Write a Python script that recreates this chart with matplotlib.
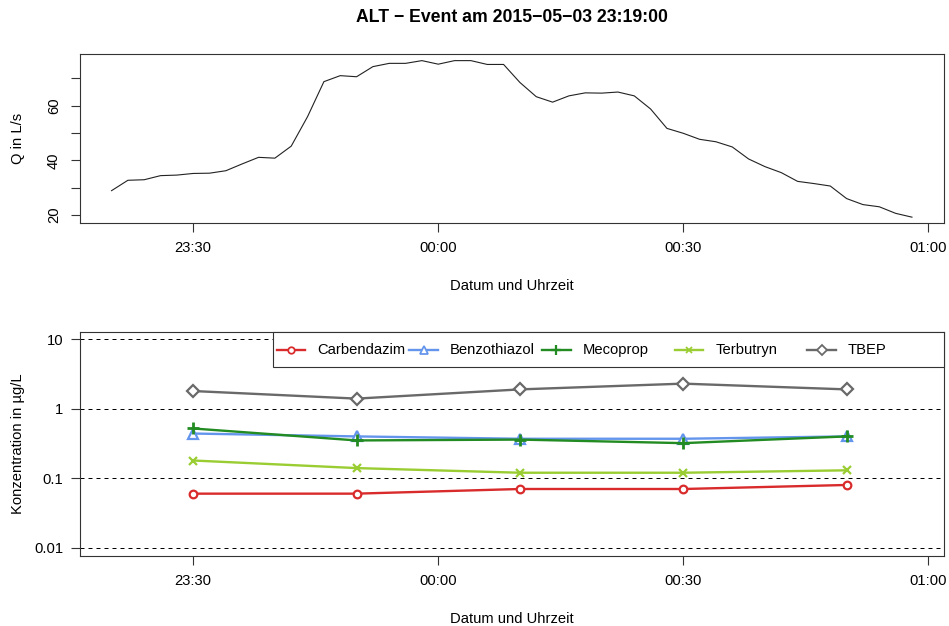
import matplotlib
matplotlib.use('Agg')
import matplotlib.pyplot as plt
import matplotlib.dates as mdates
from matplotlib.lines import Line2D
from matplotlib.patches import Rectangle
import pandas as pd

plt.rcParams['font.family'] = ['Liberation Sans', 'DejaVu Sans']

# Abfluss, alle 2 Minuten ab 23:20
q_start = '2015-05-03 23:20'
q_werte = [28.9, 32.7, 32.9, 34.4, 34.6, 35.2, 35.3, 36.2, 38.7, 41.1,
           40.8, 45.2, 56.0, 68.8, 71.0, 70.6, 74.3, 75.5, 75.5, 76.5,
           75.2, 76.5, 76.5, 75.1, 75.1, 68.5, 63.3, 61.3, 63.6, 64.7,
           64.6, 65.0, 63.6, 58.8, 51.7, 49.9, 47.7, 46.8, 44.9, 40.5,
           37.7, 35.5, 32.3, 31.5, 30.6, 26.0, 23.8, 23.0, 20.6, 19.2]

# Proben
proben_zeit = ['2015-05-03 23:30', '2015-05-03 23:50', '2015-05-04 00:10',
               '2015-05-04 00:30', '2015-05-04 00:50']
stoffe = ['Carbendazim', 'Benzothiazol', 'Mecoprop', 'Terbutryn', 'TBEP']
carbendazim = [0.06, 0.06, 0.07, 0.07, 0.08]
benzothiazol = [0.44, 0.40, 0.37, 0.37, 0.40]
mecoprop = [0.52, 0.35, 0.36, 0.32, 0.40]
terbutryn = [0.18, 0.14, 0.12, 0.12, 0.13]
tbep = [1.8, 1.4, 1.9, 2.3, 1.9]

konz = [carbendazim, benzothiazol, mecoprop, terbutryn, tbep]
farben = ['#d92b2b', '#6495ed', '#228b22', '#9acd32', '#696969']
marker = ['o', '^', '+', 'x', 'D']
msize = [5.5, 6.5, 8.0, 5.2, 6.3]

q_zeit = pd.date_range(q_start, periods=len(q_werte), freq='2min')
p_zeit = pd.to_datetime(proben_zeit)

x0 = pd.Timestamp('2015-05-03 23:20') - pd.Timedelta(minutes=3.92)
x1 = pd.Timestamp('2015-05-04 00:58') + pd.Timedelta(minutes=3.92)
xticks = pd.to_datetime(['2015-05-03 23:30', '2015-05-04 00:00',
                         '2015-05-04 00:30', '2015-05-04 01:00'])

fig = plt.figure(figsize=(9.49, 6.26), dpi=100)
ax1 = fig.add_axes([0.0838, 0.6438, 0.9109, 0.2707])
ax2 = fig.add_axes([0.0838, 0.1123, 0.9109, 0.3578])

box = '#333333'
fs = 10.6

for ax in (ax1, ax2):
    for s in ax.spines.values():
        s.set_color(box)
        s.set_linewidth(0.8)
    ax.set_xlim(x0, x1)
    ax.set_xticks(xticks)
    ax.xaxis.set_major_formatter(mdates.DateFormatter('%H:%M'))
    ax.tick_params(length=6.3, width=0.8, color=box, labelsize=fs)
    ax.tick_params(axis='x', pad=7)

# oben: Abfluss
ax1.plot(q_zeit, q_werte, color='#222222', lw=0.8)
ax1.set_ylim(17.07, 79.1)
ax1.set_yticks([20, 30, 40, 50, 60, 70])
ax1.set_yticklabels(['20', '', '40', '', '60', ''])
ax1.tick_params(axis='y', pad=7)
for lab in ax1.get_yticklabels():
    lab.set_rotation(90)
    lab.set_va('center')
ax1.text(-0.0717, 0.5, 'Q in L/s', transform=ax1.transAxes, rotation=90,
         ha='center', va='center', fontsize=fs)
ax1.text(0.5, -0.372, 'Datum und Uhrzeit', transform=ax1.transAxes,
         ha='center', va='center', fontsize=fs)

# unten: Konzentrationen
ax2.set_yscale('log')
ax2.set_ylim(10 ** -2.115, 10 ** 1.109)
ax2.set_yticks([0.01, 0.1, 1, 10])
ax2.set_yticklabels(['0.01', '0.1', '1', '10'])
ax2.yaxis.set_minor_locator(matplotlib.ticker.NullLocator())
ax2.tick_params(axis='y', pad=5.5)
for v in [0.01, 0.1, 1, 10]:
    ax2.axhline(v, color='black', lw=0.72, ls=(0, (4, 4)), zorder=1)

for name, werte, c, m, ms in zip(stoffe, konz, farben, marker, msize):
    mew = 2.0 if m == '+' else 1.6
    ax2.plot(p_zeit, werte, color=c, lw=1.7, marker=m, ms=ms,
             mfc='white' if m in 'o^D' else c, mec=c, mew=mew, zorder=3)

ax2.text(-0.0717, 0.5, 'Konzentration in µg/L', transform=ax2.transAxes,
         rotation=90, ha='center', va='center', fontsize=fs)
ax2.text(0.5, -0.2826, 'Datum und Uhrzeit', transform=ax2.transAxes,
         ha='center', va='center', fontsize=fs)

# Legende, gleich breite Spalten wie in R
lx, ly, lh = 0.2235, 0.8406, 0.1594
ax2.add_patch(Rectangle((lx, ly), 1 - lx, lh, transform=ax2.transAxes,
                        facecolor='white', edgecolor=box, lw=0.8, zorder=5,
                        clip_on=False))
ym = ly + lh / 2
for i, (name, c, m, ms) in enumerate(zip(stoffe, farben, marker, msize)):
    xs = 0.2281 + i * 0.1535
    mew = 2.0 if m == '+' else 1.6
    ax2.add_line(Line2D([xs, xs + 0.033], [ym, ym], transform=ax2.transAxes,
                        color=c, lw=1.7, zorder=6, clip_on=False))
    ax2.add_line(Line2D([xs + 0.0165], [ym], transform=ax2.transAxes,
                        marker=m, ms=ms * 0.85, mfc='white' if m in 'o^D' else c,
                        mec=c, mew=mew * 0.8, zorder=7, clip_on=False))
    ax2.text(xs + 0.047, ym, name, transform=ax2.transAxes, ha='left',
             va='center', fontsize=fs, zorder=7)

fig.text(0.5393, 1 - 18 / 626, 'ALT \u2212 Event am 2015\u221205\u221203 23:19:00',
         ha='center', va='center', fontsize=12.7, fontweight='bold')

fig.savefig('out.png', dpi=100)
